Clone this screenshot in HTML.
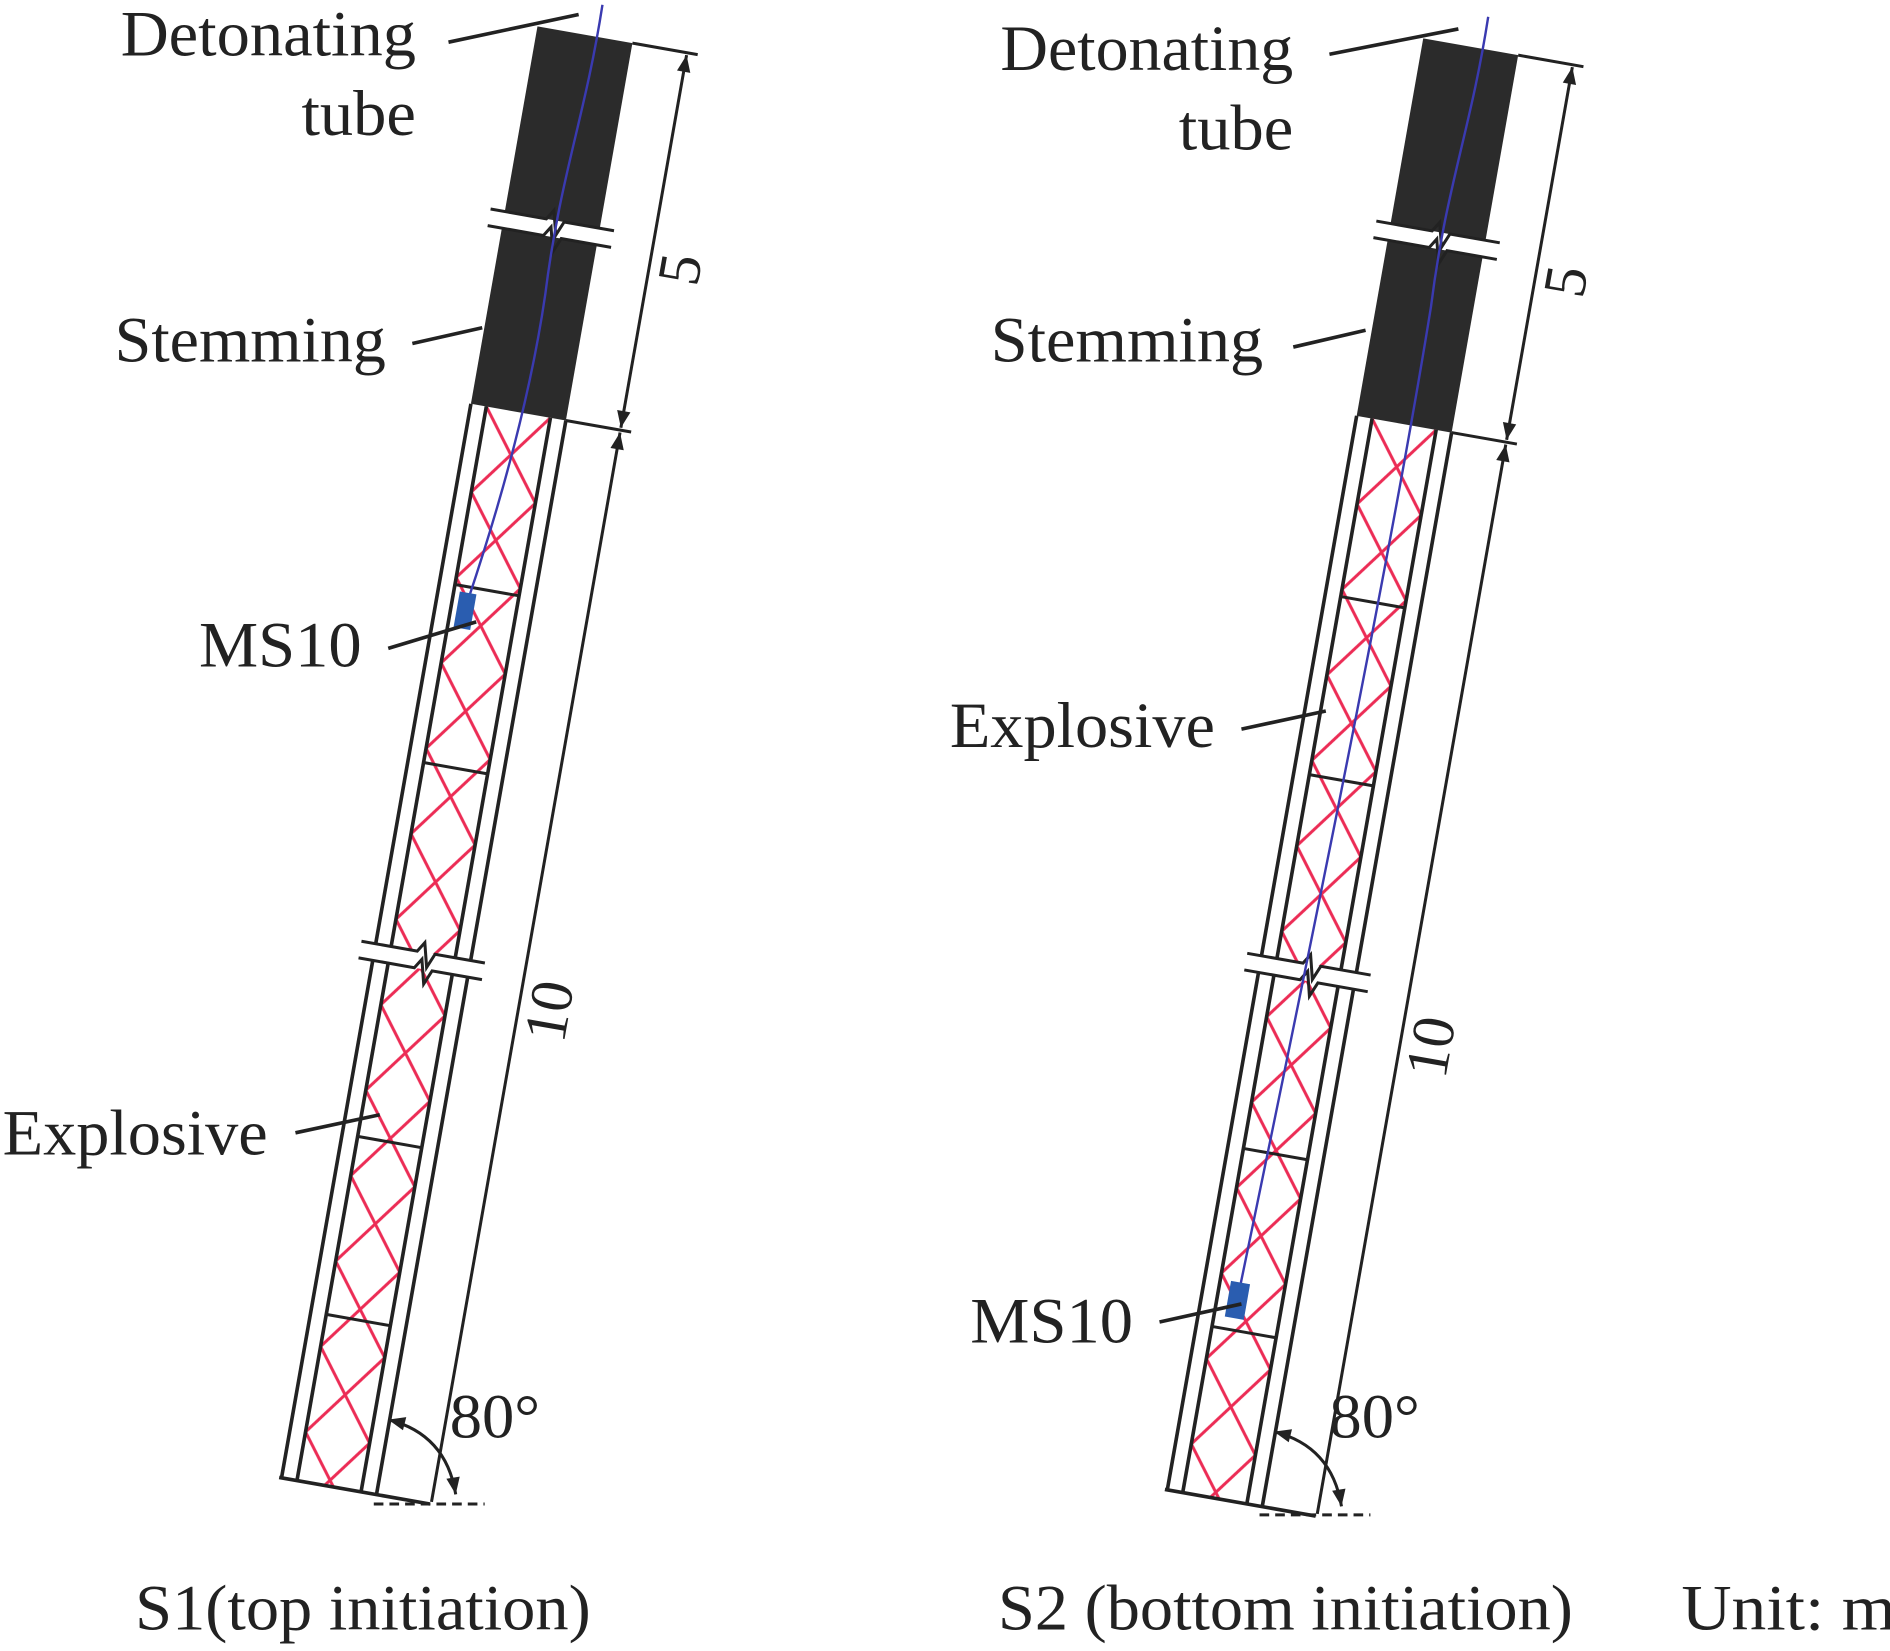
<!DOCTYPE html>
<html><head><meta charset="utf-8"><style>
html,body{margin:0;padding:0;background:#fff;}
svg{display:block;}
text{font-family:"Liberation Serif",serif;fill:#222;}
</style></head><body>
<svg width="1890" height="1651" viewBox="0 0 1568 1370" xmlns="http://www.w3.org/2000/svg">
<defs>
<pattern id="hatch" patternUnits="userSpaceOnUse" x="-27" y="0" width="54" height="72">
<line x1="0" y1="0" x2="54" y2="72" stroke="#ec2c55" stroke-width="2.5"/>
<line x1="54" y1="0" x2="0" y2="72" stroke="#ec2c55" stroke-width="2.5"/>
</pattern>
<marker id="ar" viewBox="0 0 10 10" refX="10" refY="5" markerWidth="16" markerHeight="14" orient="auto-start-reverse" markerUnits="userSpaceOnUse"><path d="M0,1 L10,5 L0,9 Z" fill="#222"/></marker>
<g id="hole">
<rect x="-40" y="-318" width="80" height="318" fill="#2b2b2b"/>
<rect x="-27" y="0" width="54" height="905" fill="url(#hatch)"/>
<g stroke="#222" stroke-width="3" fill="none">
<line x1="-40" y1="0" x2="-40" y2="905"/>
<line x1="-27" y1="0" x2="-27" y2="905"/>
<line x1="27" y1="0" x2="27" y2="905"/>
<line x1="40" y1="0" x2="40" y2="905"/>
<line x1="-42" y1="905" x2="85" y2="905"/>
<line x1="40" y1="-318" x2="95" y2="-318" stroke-width="2.5"/>
<line x1="40" y1="0" x2="95" y2="0" stroke-width="2.5"/>
<line x1="86" y1="-316" x2="86" y2="-2" stroke-width="2.5" marker-start="url(#ar)" marker-end="url(#ar)"/>
<line x1="86" y1="2" x2="86" y2="903" stroke-width="2.5" marker-start="url(#ar)"/>
</g>
<g>
<rect x="-52" y="-162" width="104" height="14" fill="#fff"/>
<path d="M-52,-162 H-5 L0,-170 L5,-150 L10,-162 H52" stroke="#222" stroke-width="2.5" fill="none"/>
<path d="M-52,-148 H-5 L0,-156 L5,-136 L10,-148 H52" stroke="#222" stroke-width="2.5" fill="none"/>
<rect x="-52" y="455" width="104" height="14" fill="#fff"/>
<path d="M-52,455 H-5 L0,447 L5,467 L10,455 H52" stroke="#222" stroke-width="2.5" fill="none"/>
<path d="M-52,469 H-5 L0,461 L5,481 L10,469 H52" stroke="#222" stroke-width="2.5" fill="none"/>
</g>
</g>
</defs>

<g transform="translate(430,342) rotate(10)">
<use href="#hole"/>
<g stroke="#222" stroke-width="2.5"><line x1="-27" y1="150" x2="27" y2="150"/><line x1="-27" y1="300" x2="27" y2="300"/><line x1="-27" y1="615" x2="27" y2="615"/><line x1="-27" y1="765" x2="27" y2="765"/></g>
<path d="M10,-345 C12,-250 0,-200 5,-100 C8,0 -5,100 -14,160" stroke="#3a3ab0" stroke-width="2" fill="none"/>
<rect x="-22" y="155" width="14" height="30" fill="#2a5db0"/>
<text transform="translate(128,-140) rotate(-90)" font-size="50" text-anchor="middle">5</text>
<text transform="translate(128,485) rotate(-90)" font-size="50" text-anchor="middle">10</text>
</g>

<g transform="translate(1165,352) rotate(10)">
<use href="#hole"/>
<g stroke="#222" stroke-width="2.5"><line x1="-27" y1="150" x2="27" y2="150"/><line x1="-27" y1="300" x2="27" y2="300"/><line x1="-27" y1="615" x2="27" y2="615"/><line x1="-27" y1="765" x2="27" y2="765"/></g>
<path d="M10,-345 C12,-250 0,-200 5,-100 C8,100 0,400 -10,735" stroke="#3a3ab0" stroke-width="2" fill="none"/>
<rect x="-18" y="725" width="16" height="30" fill="#2a5db0"/>
<text transform="translate(128,-140) rotate(-90)" font-size="50" text-anchor="middle">5</text>
<text transform="translate(128,505) rotate(-90)" font-size="50" text-anchor="middle">10</text>
</g>

<g stroke="#222" stroke-width="2.5" fill="none">
<line x1="310" y1="1248" x2="402" y2="1248" stroke-dasharray="8,5"/>
<path d="M322,1178 Q370,1190 378,1240" marker-start="url(#ar)" marker-end="url(#ar)"/>
<line x1="1045" y1="1257" x2="1137" y2="1257" stroke-dasharray="8,5"/>
<path d="M1057,1188 Q1105,1200 1113,1250" marker-start="url(#ar)" marker-end="url(#ar)"/>
</g>
<text x="373" y="1193" font-size="52" textLength="75" lengthAdjust="spacingAndGlyphs">80°</text>
<text x="1103" y="1193" font-size="52" textLength="75" lengthAdjust="spacingAndGlyphs">80°</text>

<g stroke="#222" stroke-width="3">
<line x1="372" y1="35" x2="480" y2="12"/>
<line x1="342" y1="285" x2="400" y2="272"/>
<line x1="322" y1="538" x2="395" y2="516"/>
<line x1="245" y1="940" x2="315" y2="925"/>
<line x1="1103" y1="45" x2="1210" y2="24"/>
<line x1="1073" y1="288" x2="1133" y2="274"/>
<line x1="1030" y1="605" x2="1100" y2="590"/>
<line x1="962" y1="1097" x2="1030" y2="1082"/>
</g>

<g font-size="54">
<text x="100" y="46" textLength="245" lengthAdjust="spacingAndGlyphs">Detonating</text>
<text x="250" y="112" textLength="95" lengthAdjust="spacingAndGlyphs">tube</text>
<text x="95" y="300" textLength="225" lengthAdjust="spacingAndGlyphs">Stemming</text>
<text x="165" y="553" textLength="135" lengthAdjust="spacingAndGlyphs">MS10</text>
<text x="2" y="958" textLength="220" lengthAdjust="spacingAndGlyphs">Explosive</text>
<text x="830" y="58" textLength="243" lengthAdjust="spacingAndGlyphs">Detonating</text>
<text x="978" y="124" textLength="95" lengthAdjust="spacingAndGlyphs">tube</text>
<text x="822" y="300" textLength="226" lengthAdjust="spacingAndGlyphs">Stemming</text>
<text x="788" y="620" textLength="220" lengthAdjust="spacingAndGlyphs">Explosive</text>
<text x="805" y="1114" textLength="135" lengthAdjust="spacingAndGlyphs">MS10</text>
<text x="112" y="1352" textLength="378" lengthAdjust="spacingAndGlyphs">S1(top initiation)</text>
<text x="828" y="1352" textLength="477" lengthAdjust="spacingAndGlyphs">S2 (bottom initiation)</text>
<text x="1395" y="1352" textLength="178" lengthAdjust="spacingAndGlyphs">Unit: m</text>
</g>
</svg>
</body></html>
